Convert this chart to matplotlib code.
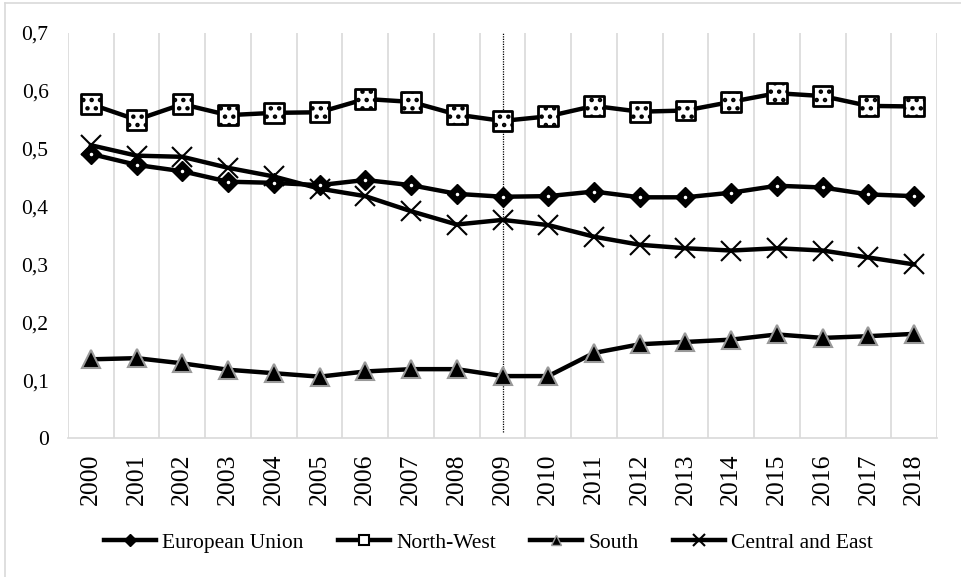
import matplotlib.pyplot as plt
from matplotlib.lines import Line2D
from matplotlib.ticker import FuncFormatter, MultipleLocator

years = [str(y) for y in range(2000, 2019)]
european_union = [0.491, 0.472, 0.461, 0.443, 0.441, 0.437, 0.446, 0.437, 0.422, 0.417,
                  0.418, 0.426, 0.416, 0.416, 0.424, 0.436, 0.433, 0.421, 0.418]
north_west = [0.577, 0.550, 0.577, 0.558, 0.562, 0.563, 0.586, 0.581, 0.559, 0.548,
              0.556, 0.574, 0.564, 0.566, 0.581, 0.596, 0.591, 0.574, 0.573]
south = [0.136, 0.138, 0.129, 0.118, 0.112, 0.106, 0.115, 0.119, 0.119, 0.107,
         0.107, 0.147, 0.162, 0.166, 0.170, 0.179, 0.173, 0.176, 0.180]
central_east = [0.506, 0.488, 0.486, 0.467, 0.452, 0.431, 0.418, 0.392, 0.369, 0.377,
                0.368, 0.348, 0.334, 0.328, 0.324, 0.328, 0.324, 0.312, 0.300]
marked_year = '2009'

plt.rcParams['font.family'] = 'serif'
plt.rcParams['font.serif'] = ['Liberation Serif', 'DejaVu Serif']
plt.rcParams['hatch.linewidth'] = 2.0

fig = plt.figure(figsize=(9.62, 5.77), dpi=100)
ax = fig.add_axes([0.0707, 0.2409, 0.9033, 0.7019])
x = list(range(len(years)))

# outer frame (only top and left edges visible in the reference)
fig.add_artist(Line2D([0.005, 0.005], [0.0, 0.995], color='#d9d9d9', lw=1.2, transform=fig.transFigure))
fig.add_artist(Line2D([0.005, 1.0], [0.995, 0.995], color='#d9d9d9', lw=1.2, transform=fig.transFigure))

ax.plot(x, european_union, color='black', lw=3.2, marker='D', ms=10.5,
        mfc='black', mec='black', zorder=4)
ax.plot(x, european_union, ls='none', marker='o', ms=1.5, mfc='white', mec='white', zorder=5)

ax.plot(x, north_west, color='black', lw=3.2, zorder=3)
ax.scatter(x, north_west, marker='s', s=200, facecolor='white', edgecolor='black',
           linewidths=2, hatch='..', zorder=4)

ax.plot(x, south, color='black', lw=3.2, marker='^', ms=13,
        mfc='black', mec='#999999', mew=1.5, zorder=4)

ax.plot(x, central_east, color='black', lw=3.2, zorder=3)
ax.plot(x, central_east, ls='none', marker='x', ms=14, mew=1.5, color='black', zorder=4)

ax.axvline(years.index(marked_year), ymin=0.015, ymax=1.0, color='black', lw=0.9,
           ls=(0, (1, 1)), zorder=2)
ax.set_ylim(0, 0.7)
ax.set_xlim(-0.5, len(years) - 0.5)
ax.yaxis.set_major_locator(MultipleLocator(0.1))
ax.yaxis.set_major_formatter(FuncFormatter(lambda v, p: '0' if abs(v) < 1e-9 else f'{v:.1f}'.replace('.', ',')))
ax.set_xticks(x)
ax.set_xticklabels(years, rotation=90)
ax.set_xticks([i - 0.5 for i in range(len(years) + 1)], minor=True)
ax.grid(True, which='minor', axis='x', color='#d9d9d9', lw=1.2)
ax.tick_params(axis='both', which='both', length=0)
ax.tick_params(axis='y', pad=14, labelsize=15.5)
ax.tick_params(axis='x', pad=11, labelsize=18.5)
for s in ['top', 'right', 'left']:
    ax.spines[s].set_visible(False)
ax.spines['bottom'].set_color('#d9d9d9')
ax.spines['bottom'].set_linewidth(1.2)

handles = [
    Line2D([], [], color='black', lw=3.2, marker='D', ms=6, mfc='black', mec='black'),
    Line2D([], [], color='black', lw=3.2, marker='s', ms=7, mfc='white', mec='black', mew=1.5),
    Line2D([], [], color='black', lw=3.2, marker='^', ms=7, mfc='black', mec='#999999'),
    Line2D([], [], color='black', lw=3.2, marker='x', ms=8, mew=1.5),
]
labels = ['European Union', 'North-West', 'South', 'Central and East']
fig.legend(handles, labels, loc='center', bbox_to_anchor=(0.508, 0.059), ncol=4, frameon=False,
           fontsize=15.5, handlelength=2.4, handletextpad=0.3, columnspacing=1.6)

fig.savefig('out.png', dpi=100)
